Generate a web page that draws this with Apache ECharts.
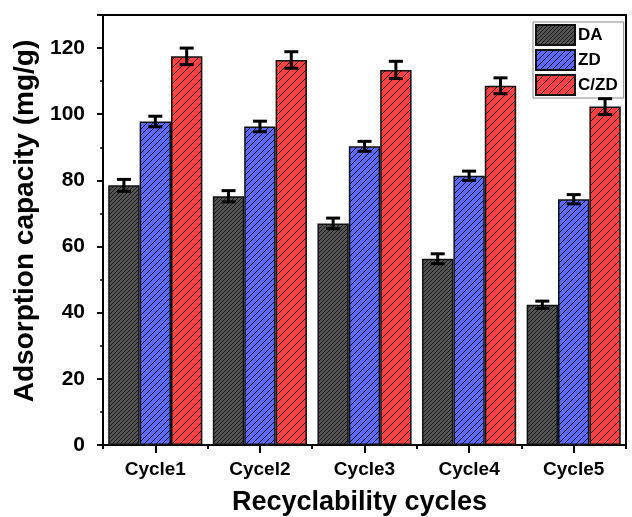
<!DOCTYPE html>
<html>
<head>
<meta charset="utf-8">
<script src="https://cdn.jsdelivr.net/npm/echarts@6/dist/echarts.min.js"></script>
<style>
  html, body { margin: 0; padding: 0; background: #fff; }
  #chart { width: 632px; height: 517px; }
</style>
</head>
<body>
<div id="chart"></div>
<script>
// Adsorption capacity over five reuse cycles
const categories = ['Cycle1', 'Cycel2', 'Cycle3', 'Cycle4', 'Cycle5'];
const seriesNames = ['DA', 'ZD', 'C/ZD'];
const daValues = [78.5, 75.2, 67.0, 56.3, 42.4];
const zdValues = [97.8, 96.3, 90.3, 81.4, 74.3];
const czdValues = [117.5, 116.4, 113.4, 108.6, 102.3];
const daErrors = [1.8, 1.7, 1.6, 1.5, 1.1];
const zdErrors = [1.6, 1.6, 1.5, 1.4, 1.4];
const czdErrors = [2.5, 2.5, 2.6, 2.4, 2.4];
const yTicks = { min: 0, max: 130, interval: 20 };

const FONT = '"Liberation Sans", Arial, sans-serif';

// Hatched fill: solid background with "/" diagonal lines, tileable
function hatch(bg, step, lineW) {
  const c = document.createElement('canvas');
  c.width = step; c.height = step;
  const g = c.getContext('2d');
  g.fillStyle = bg;
  g.fillRect(0, 0, step, step);
  g.strokeStyle = '#111';
  g.lineWidth = lineW;
  g.beginPath();
  g.moveTo(0, step); g.lineTo(step, 0);
  g.moveTo(-step / 2, step / 2); g.lineTo(step / 2, -step / 2);
  g.moveTo(step / 2, step * 1.5); g.lineTo(step * 1.5, step / 2);
  g.stroke();
  return { image: c, repeat: 'repeat' };
}

const fills = [
  hatch('#555555', 4, 0.9),
  hatch('#5b6bff', 6, 1),
  hatch('#ff4040', 8, 1)
];

const values = [daValues, zdValues, czdValues];
const errors = [daErrors, zdErrors, czdErrors];
const CATEGORY_GAP = 0.1;

const barSeries = seriesNames.map((name, i) => ({
  name: name,
  type: 'bar',
  xAxisIndex: 0,
  barGap: '0%',
  barCategoryGap: (CATEGORY_GAP * 100) + '%',
  data: values[i],
  itemStyle: { color: fills[i], borderColor: '#111', borderWidth: 1.5 },
  emphasis: { disabled: true },
  z: 2
}));

// Error bars placed over the matching bar within each category band
const errorSeries = seriesNames.map((name, i) => ({
  type: 'custom',
  name: name + ' error',
  xAxisIndex: 0,
  data: values[i].map((v, k) => [k, v - errors[i][k], v + errors[i][k]]),
  encode: { x: 0, y: [1, 2] },
  z: 5,
  silent: true,
  renderItem: function (params, api) {
    const band = api.size([1, 0])[0];
    const barW = band * (1 - CATEGORY_GAP) / seriesNames.length;
    const offset = (i - (seriesNames.length - 1) / 2) * barW;
    const lo = api.coord([api.value(0), api.value(1)]);
    const hi = api.coord([api.value(0), api.value(2)]);
    const x = lo[0] + offset;
    const cap = 7;
    const style = { stroke: '#000', lineWidth: 3 };
    return {
      type: 'group',
      children: [
        { type: 'line', shape: { x1: x, y1: lo[1], x2: x, y2: hi[1] }, style: style },
        { type: 'line', shape: { x1: x - cap, y1: lo[1], x2: x + cap, y2: lo[1] }, style: style },
        { type: 'line', shape: { x1: x - cap, y1: hi[1], x2: x + cap, y2: hi[1] }, style: style }
      ]
    };
  }
}));

const chart = echarts.init(document.getElementById('chart'), null, { renderer: 'canvas' });
chart.setOption({
  backgroundColor: '#fff',
  animation: false,
  textStyle: { fontFamily: FONT },
  grid: {
    left: 103, right: 6, top: 15, bottom: 72,
    outerBoundsMode: 'none',
    containLabel: false,
    show: true, borderColor: '#000', borderWidth: 2, backgroundColor: 'transparent'
  },
  legend: {
    data: seriesNames,
    orient: 'vertical',
    left: 533, top: 22,
    icon: 'rect',
    itemWidth: 39, itemHeight: 20, itemGap: 3,
    padding: [2, 6, 2, 2],
    borderColor: '#888', borderWidth: 1,
    backgroundColor: '#fff',
    textStyle: { fontFamily: FONT, fontWeight: 'bold', fontSize: 17, color: '#000', padding: [0, 0, 0, -2] },
    selectedMode: false
  },
  xAxis: [
    {
      type: 'category',
      data: categories,
      position: 'bottom',
      axisLine: { show: true, lineStyle: { color: '#000', width: 2 } },
      axisTick: { show: true, alignWithLabel: false, length: 4, lineStyle: { color: '#000', width: 2 } },
      axisLabel: { color: '#000', fontFamily: FONT, fontWeight: 'bold', fontSize: 19, margin: 15 },
      name: 'Recyclability cycles',
      nameLocation: 'middle',
      nameGap: 44,
      nameTextStyle: { color: '#000', fontFamily: FONT, fontWeight: 'bold', fontSize: 27, padding: [0, 10, 0, 0] }
    },
    {
      type: 'category',
      data: categories,
      position: 'bottom',
      axisLine: { show: false },
      axisTick: { show: true, alignWithLabel: true, length: 8, lineStyle: { color: '#000', width: 2 } },
      axisLabel: { show: false }
    }
  ],
  yAxis: {
    type: 'value',
    min: yTicks.min, max: yTicks.max, interval: yTicks.interval,
    axisLine: { show: true, lineStyle: { color: '#000', width: 2 } },
    axisTick: { show: true, length: 6, lineStyle: { color: '#000', width: 2 } },
    minorTick: { show: true, splitNumber: 2, length: 3, lineStyle: { color: '#000', width: 1.5 } },
    splitLine: { show: false },
    axisLabel: { color: '#000', fontFamily: FONT, fontWeight: 'bold', fontSize: 21, margin: 18, showMaxLabel: false },
    name: 'Adsorption capacity (mg/g)',
    nameLocation: 'middle',
    nameGap: 60,
    nameTextStyle: { color: '#000', fontFamily: FONT, fontWeight: 'bold', fontSize: 28, padding: [0, 0, 0, 18] }
  },
  series: barSeries.concat(errorSeries)
});
</script>
</body>
</html>
